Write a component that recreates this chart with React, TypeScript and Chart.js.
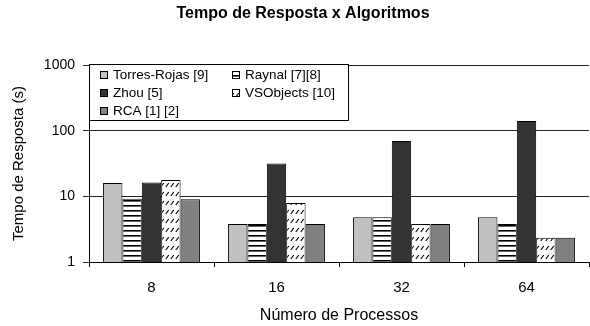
import React, { useEffect, useRef } from "react";
import { Chart, registerables } from "chart.js";

Chart.register(...registerables);

const categories = ["8", "16", "32", "64"];
const seriesNames = ["Torres-Rojas [9]", "Raynal [7][8]", "Zhou [5]", "VSObjects [10]", "RCA [1] [2]"];
const torresRojas = [16, 3.8, 4.8, 4.8];
const raynal = [9.2, 3.8, 4.8, 3.8];
const zhou = [16.3, 31.6, 69.5, 140];
const vsObjects = [17.7, 7.9, 3.8, 2.35];
const rca = [9, 3.8, 3.8, 2.35];
const yTicks = [1, 10, 100, 1000];
const chartTitle = "Tempo de Resposta x Algoritmos";

const FONT = "'Liberation Sans', Arial, sans-serif";

function stripePattern(): CanvasPattern | string {
  const c = document.createElement("canvas");
  c.width = 4;
  c.height = 5;
  const ctx = c.getContext("2d");
  if (!ctx) return "#fff";
  ctx.fillStyle = "#fff";
  ctx.fillRect(0, 0, 4, 5);
  ctx.fillStyle = "#000";
  ctx.fillRect(0, 0, 4, 1.6);
  return ctx.createPattern(c, "repeat") as CanvasPattern;
}

function hatchPattern(): CanvasPattern | string {
  const c = document.createElement("canvas");
  c.width = 5;
  c.height = 9;
  const ctx = c.getContext("2d");
  if (!ctx) return "#fff";
  ctx.fillStyle = "#fff";
  ctx.fillRect(0, 0, 5, 9);
  ctx.strokeStyle = "#000";
  ctx.lineWidth = 1.2;
  ctx.beginPath();
  ctx.moveTo(0.8, 7);
  ctx.lineTo(3.8, 3);
  ctx.stroke();
  return ctx.createPattern(c, "repeat") as CanvasPattern;
}

const titlePlugin = {
  id: "offsetTitle",
  afterDraw(chart: any) {
    const ctx = chart.ctx as CanvasRenderingContext2D;
    ctx.save();
    ctx.font = `bold 16px ${FONT}`;
    ctx.fillStyle = "#000";
    ctx.textAlign = "center";
    ctx.textBaseline = "middle";
    ctx.fillText(chartTitle, 303, 14);
    ctx.restore();
  },
};

const legendPlugin = {
  id: "boxLegend",
  afterDatasetsDraw(chart: any) {
    const ctx = chart.ctx as CanvasRenderingContext2D;
    const ds = chart.data.datasets;
    const left = 89;
    const top = 64;
    const w = 259;
    const h = 56;
    ctx.save();
    ctx.fillStyle = "#fff";
    ctx.fillRect(left, top, w, h);
    ctx.strokeStyle = "#000";
    ctx.lineWidth = 1;
    ctx.strokeRect(left + 0.5, top + 0.5, w, h);
    const cols = [100, 232];
    const rows = [75, 93, 111];
    ctx.font = `13.5px ${FONT}`;
    ctx.textBaseline = "middle";
    ds.forEach((d: any, i: number) => {
      const cx = cols[i % 2];
      const cy = rows[Math.floor(i / 2)];
      ctx.fillStyle = d.backgroundColor;
      ctx.fillRect(cx, cy - 4, 8, 8);
      ctx.strokeStyle = "#000";
      ctx.strokeRect(cx + 0.5, cy - 3.5, 7, 7);
      ctx.fillStyle = "#000";
      ctx.fillText(d.label, cx + 13, cy + 0.5);
    });
    ctx.restore();
  },
};

export default function App() {
  const ref = useRef<HTMLCanvasElement | null>(null);
  useEffect(() => {
    document.body.style.margin = "0";
    if (!ref.current) return;
    const fills = ["#c0c0c0", stripePattern(), "#333333", hatchPattern(), "#808080"];
    const values = [torresRojas, raynal, zhou, vsObjects, rca];
    const chart = new Chart(ref.current, {
      type: "bar",
      data: {
        labels: categories,
        datasets: values.map((v, i) => ({
          label: seriesNames[i],
          data: v,
          backgroundColor: fills[i] as any,
          borderColor: "#000",
          borderWidth: 1,
          categoryPercentage: 0.775,
          barPercentage: 1,
        })),
      },
      options: {
        animation: false,
        responsive: false,
        maintainAspectRatio: false,
        layout: { padding: { left: 0, right: 1, top: 65, bottom: 0 } },
        plugins: {
          legend: { display: false },
          tooltip: { enabled: false },
          title: { display: false },
        },
        scales: {
          x: {
            grid: {
              display: true,
              drawOnChartArea: false,
              tickLength: 5,
              color: "#000",
              offset: true,
            },
            border: { color: "#000" },
            ticks: {
              color: "#000",
              font: { family: FONT, size: 15 },
              padding: 12,
            },
            title: {
              display: true,
              text: "Número de Processos",
              color: "#000",
              font: { family: FONT, size: 16 },
              padding: { top: 0, bottom: 1 },
            },
            afterFit(scale: any) {
              scale.height = 64;
            },
          },
          y: {
            type: "logarithmic",
            min: 1,
            max: 1000,
            afterBuildTicks(scale: any) {
              scale.ticks = yTicks.map((v) => ({ value: v }));
            },
            grid: { color: "#222", tickLength: 6 },
            border: { color: "#000" },
            ticks: {
              color: "#000",
              font: { family: FONT, size: 14 },
              padding: 8,
              callback: (v: any) => String(v),
            },
            title: {
              display: true,
              text: "Tempo de Resposta (s)",
              color: "#000",
              font: { family: FONT, size: 15 },
              padding: { top: 10, bottom: 0 },
            },
            afterFit(scale: any) {
              scale.width = 89;
            },
          },
        },
      },
      plugins: [legendPlugin, titlePlugin],
    });
    return () => chart.destroy();
  }, []);
  return (
    <div style={{ width: 590, height: 326 }}>
      <canvas ref={ref} width={590} height={326} style={{ display: "block" }} />
    </div>
  );
}
